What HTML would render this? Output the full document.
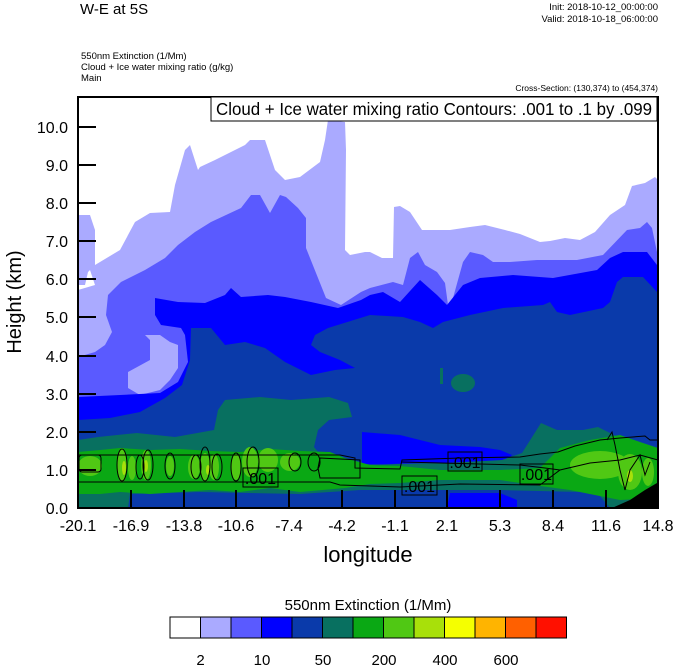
<!DOCTYPE html>
<html><head><meta charset="utf-8"><style>
html,body{margin:0;padding:0;background:#fff;}
svg{display:block;font-family:"Liberation Sans",sans-serif;}
</style></head><body>
<svg width="674" height="667" viewBox="0 0 674 667" xmlns="http://www.w3.org/2000/svg">
<defs><clipPath id="pc"><rect x="78" y="97" width="580" height="411"/></clipPath></defs>
<text x="80" y="14" font-size="15">W-E at 5S</text>
<text x="658" y="10" font-size="9.5" text-anchor="end">Init: 2018-10-12_00:00:00</text>
<text x="658" y="22" font-size="9.5" text-anchor="end">Valid: 2018-10-18_06:00:00</text>
<text x="81" y="59" font-size="9.5">550nm Extinction   (1/Mm)</text>
<text x="81" y="70" font-size="9.5">Cloud + Ice water mixing ratio   (g/kg)</text>
<text x="81" y="81" font-size="9.5">Main</text>
<text x="658" y="91" font-size="8.5" text-anchor="end">Cross-Section: (130,374) to (454,374)</text>
<g clip-path="url(#pc)">
<rect x="78" y="97" width="580" height="411" fill="#fff"/>
<polygon fill="#aaaaff" points="78,215 90,215 95,230 95,265 88,272 85,285 78,285 78,508 658,508 658,180 655,177 645,183 632,186 625,205 610,215 595,232 580,240 565,238 550,241 540,242 520,234 505,230 485,225 470,227 450,230 435,230 422,230 410,212 400,206 394,207 393,258 382,258 370,252 365,252 350,255 345,250 346,150 345,122 328,120 325,140 320,162 300,177 285,180 275,170 265,140 250,140 245,145 215,160 200,167 198,170 190,145 185,150 175,185 170,212 150,213 135,222 120,250 95,265 90,270 95,285 78,290"/>
<polygon fill="#5a5aff" points="78,357 95,352 105,345 112,332 106,315 108,295 121,282 145,270 165,258 178,245 195,232 211,222 241,208 251,195 260,195 270,213 280,195 286,197 298,208 306,218 306,248 318,278 326,298 341,305 361,292 370,288 393,282 403,285 410,258 418,252 425,265 437,272 445,283 448,305 453,298 463,262 470,252 483,255 493,262 510,262 537,260 577,260 603,255 627,230 640,228 647,222 652,228 657,252 658,252 658,508 78,508"/>
<polygon fill="#aaaaff" points="145,335 150,340 150,360 128,372 128,388 140,395 160,390 170,380 178,368 178,345 170,342 160,335"/>
<polygon fill="#0000ff" points="155,298 178,302 205,303 225,295 231,288 241,297 268,295 285,297 311,302 338,308 361,300 370,295 383,292 400,302 420,280 437,295 447,305 463,285 480,278 513,275 553,278 597,270 610,258 623,252 647,252 657,265 658,265 658,508 78,508 78,397 120,395 160,393 178,382 188,362 185,335 181,328 161,325 155,315"/>
<polygon fill="#0a3aaa" points="191,328 211,328 225,345 245,342 265,348 285,362 311,375 335,370 355,368 340,360 320,352 311,345 315,335 328,328 370,315 403,317 420,322 433,328 443,322 470,315 503,308 543,305 550,302 557,312 570,315 603,308 610,302 617,282 623,277 643,277 657,292 658,292 658,508 78,508 78,420 110,418 140,412 165,398 182,385 190,360"/>
<polygon fill="#0000ff" points="362,432 400,435 440,445 480,447 500,450 512,455 505,462 460,463 420,463 390,464 362,464"/>
<polygon fill="#087060" points="78,440 98,437 137,433 175,437 214,430 218,410 225,400 260,397 291,400 329,397 348,403 352,417 329,420 318,430 314,447 322,457 360,462 368,466 398,464 445,463 502,460 522,453 541,423 557,430 583,430 598,427 618,437 648,447 658,450 658,508 78,508"/>
<ellipse cx="463" cy="383" rx="12" ry="9" fill="#087060"/>
<rect x="440" y="368" width="3" height="16" fill="#087060"/>
<polygon fill="#0a3aaa" points="128,508 130,494 200,492 300,494 360,490 420,490 500,490 580,492 600,496 610,508"/>
<polygon fill="#0000ff" points="447,508 450,493 500,493 517,500 517,508"/>
<polygon fill="#0aa814" points="78,452 100,450 120,448 150,450 180,449 210,451 240,452 270,449 300,451 330,452 345,458 370,465 400,466 440,470 500,470 540,468 560,448 590,440 620,435 640,442 658,448 658,498 620,500 600,496 570,490 540,486 500,480 440,480 400,483 370,484 345,488 300,492 270,488 240,492 210,490 180,492 150,494 120,492 100,494 78,494"/>
<g fill="#50c814">
<ellipse cx="90" cy="466" rx="12" ry="10"/>
<ellipse cx="122" cy="465" rx="5" ry="17"/>
<ellipse cx="132" cy="468" rx="4" ry="12"/>
<ellipse cx="146" cy="465" rx="5" ry="15"/>
<ellipse cx="170" cy="466" rx="4" ry="10"/>
<ellipse cx="194" cy="467" rx="6" ry="12"/>
<ellipse cx="205" cy="467" rx="5" ry="14"/>
<ellipse cx="214" cy="467" rx="5" ry="13"/>
<ellipse cx="236" cy="467" rx="5" ry="13"/>
<ellipse cx="250" cy="462" rx="8" ry="15"/>
<ellipse cx="268" cy="460" rx="10" ry="12"/>
<ellipse cx="290" cy="462" rx="10" ry="9"/>
<ellipse cx="600" cy="465" rx="30" ry="14"/>
<ellipse cx="630" cy="472" rx="12" ry="18"/>
<ellipse cx="648" cy="472" rx="6" ry="14"/>
</g>
<g fill="#a8e00a">
<ellipse cx="124" cy="468" rx="2" ry="7"/>
<ellipse cx="146" cy="466" rx="2" ry="6"/>
<ellipse cx="208" cy="470" rx="2" ry="5"/>
<ellipse cx="630" cy="476" rx="3" ry="6"/>
</g>
<polygon fill="#000" points="612,508 630,500 645,490 657,483 658,483 658,508"/>
<g fill="none" stroke="#000" stroke-width="1">
<rect x="79" y="455" width="22" height="17" rx="3"/>
<ellipse cx="122" cy="465" rx="5" ry="16"/>
<ellipse cx="140" cy="467" rx="4" ry="12"/>
<ellipse cx="148" cy="465" rx="5" ry="15"/>
<ellipse cx="170" cy="466" rx="5" ry="13"/>
<ellipse cx="196" cy="467" rx="5" ry="12"/>
<ellipse cx="205" cy="464" rx="5" ry="17"/>
<ellipse cx="217" cy="467" rx="5" ry="13"/>
<ellipse cx="236" cy="467" rx="5" ry="14"/>
<ellipse cx="253" cy="462" rx="6" ry="15"/>
<ellipse cx="295" cy="462" rx="6" ry="9"/>
<ellipse cx="314" cy="462" rx="6" ry="9"/>
<polyline points="78,455 340,455 355,458 355,468 400,469 402,460 460,458 520,457 540,454 558,452 575,446 600,440 620,438 645,436 650,440 658,440"/>
<polyline points="78,482 330,482 340,485 400,487 460,484 540,485 560,470 590,463 620,460 640,455 658,460"/>
<polyline points="320,458 360,460 360,478 320,478 318,468 320,458"/>
<polyline points="402,462 520,465 545,468 560,470"/>
<polyline points="607,440 612,432 615,445 620,470 625,490 630,470 640,455 645,475 650,462"/>
</g>
<g font-size="16" text-anchor="middle">
<rect x="243" y="468" width="35" height="19" fill="none" stroke="#000"/>
<text x="260.5" y="484">.001</text>
<rect x="402" y="476" width="35" height="19" fill="none" stroke="#000"/>
<text x="419.5" y="492">.001</text>
<rect x="448" y="452" width="34" height="19" fill="none" stroke="#000"/>
<text x="465" y="468">.001</text>
<rect x="520" y="464" width="33" height="20" fill="none" stroke="#000"/>
<text x="536.5" y="480">.001</text>
</g>
</g>
<rect x="78" y="97" width="580" height="411" fill="none" stroke="#000" stroke-width="2"/>
<rect x="211" y="97" width="446" height="24" fill="#fff" stroke="#000" stroke-width="1"/>
<text x="434" y="115" font-size="17.5" text-anchor="middle" textLength="436" lengthAdjust="spacingAndGlyphs">Cloud + Ice water mixing ratio Contours: .001 to .1 by .099</text>
<g stroke="#000" stroke-width="2">
<line x1="78" y1="508" x2="96" y2="508"/><line x1="78" y1="470" x2="96" y2="470"/><line x1="78" y1="432" x2="96" y2="432"/><line x1="78" y1="394" x2="96" y2="394"/><line x1="78" y1="356" x2="96" y2="356"/><line x1="78" y1="317" x2="96" y2="317"/><line x1="78" y1="279" x2="96" y2="279"/><line x1="78" y1="241" x2="96" y2="241"/><line x1="78" y1="203" x2="96" y2="203"/><line x1="78" y1="165" x2="96" y2="165"/><line x1="78" y1="127" x2="96" y2="127"/>
<line x1="131" y1="508" x2="131" y2="490"/><line x1="184" y1="508" x2="184" y2="490"/><line x1="236" y1="508" x2="236" y2="490"/><line x1="289" y1="508" x2="289" y2="490"/><line x1="342" y1="508" x2="342" y2="490"/><line x1="395" y1="508" x2="395" y2="490"/><line x1="447" y1="508" x2="447" y2="490"/><line x1="500" y1="508" x2="500" y2="490"/><line x1="553" y1="508" x2="553" y2="490"/><line x1="606" y1="508" x2="606" y2="490"/>
</g>
<g font-size="16" text-anchor="end">
<text x="68" y="514">0.0</text><text x="68" y="476">1.0</text><text x="68" y="438">2.0</text><text x="68" y="400">3.0</text><text x="68" y="362">4.0</text><text x="68" y="323">5.0</text><text x="68" y="285">6.0</text><text x="68" y="247">7.0</text><text x="68" y="209">8.0</text><text x="68" y="171">9.0</text><text x="68" y="133">10.0</text>
</g>
<g font-size="16" text-anchor="middle">
<text x="78" y="531">-20.1</text><text x="131" y="531">-16.9</text><text x="184" y="531">-13.8</text><text x="236" y="531">-10.6</text><text x="289" y="531">-7.4</text><text x="342" y="531">-4.2</text><text x="395" y="531">-1.1</text><text x="447" y="531">2.1</text><text x="500" y="531">5.3</text><text x="553" y="531">8.4</text><text x="606" y="531">11.6</text><text x="658" y="531">14.8</text>
</g>
<text x="368" y="562" font-size="22" text-anchor="middle">longitude</text>
<text transform="translate(21,302) rotate(-90)" font-size="20" text-anchor="middle">Height (km)</text>
<text x="368" y="610" font-size="15" text-anchor="middle">550nm Extinction  (1/Mm)</text>
<g stroke="#000" stroke-width="1">
<rect x="170" y="617" width="30.5" height="21" fill="#ffffff"/>
<rect x="200.5" y="617" width="30.5" height="21" fill="#aaaaff"/>
<rect x="231" y="617" width="30.5" height="21" fill="#5a5aff"/>
<rect x="261.5" y="617" width="30.5" height="21" fill="#0000ff"/>
<rect x="292" y="617" width="30.5" height="21" fill="#0a3aaa"/>
<rect x="322.5" y="617" width="30.5" height="21" fill="#087060"/>
<rect x="353" y="617" width="30.5" height="21" fill="#0aa814"/>
<rect x="383.5" y="617" width="30.5" height="21" fill="#50c814"/>
<rect x="414" y="617" width="30.5" height="21" fill="#a8e00a"/>
<rect x="444.5" y="617" width="30.5" height="21" fill="#f5ff00"/>
<rect x="475" y="617" width="30.5" height="21" fill="#ffb400"/>
<rect x="505.5" y="617" width="30.5" height="21" fill="#ff6000"/>
<rect x="536" y="617" width="30.5" height="21" fill="#ff1000"/>
</g>
<g font-size="15" text-anchor="middle">
<text x="200.5" y="665">2</text><text x="262" y="665">10</text><text x="323" y="665">50</text><text x="384" y="665">200</text><text x="445" y="665">400</text><text x="506" y="665">600</text>
</g>
</svg>
</body></html>
